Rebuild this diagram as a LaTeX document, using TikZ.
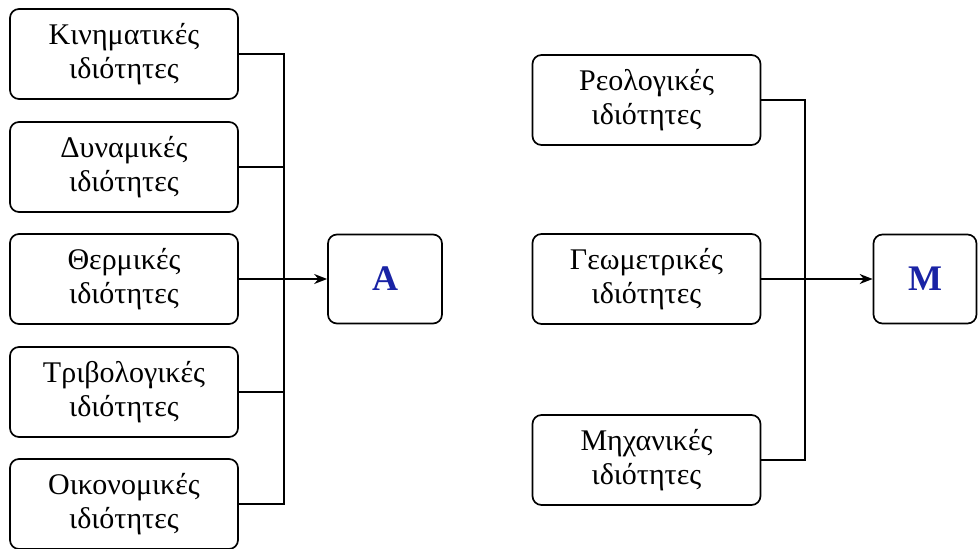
\documentclass[tikz,border=0pt]{standalone}
\usepackage{fontspec}
\setmainfont{Liberation Serif}
\usetikzlibrary{arrows.meta}
\definecolor{letterblue}{RGB}{25,35,165}
\begin{document}
\begin{tikzpicture}[x=1pt,y=-1pt,
  propbox/.style={draw, rounded corners=9pt, line width=1.7pt, minimum width=228pt,
    minimum height=90pt, align=center, inner sep=0pt,
    font=\fontsize{30}{34}\selectfont},
  resbox/.style={draw, rounded corners=9pt, line width=1.7pt, minimum height=89pt,
    inner sep=0pt, font=\fontsize{36}{38}\selectfont\bfseries, text=letterblue},
  conn/.style={line width=1.7pt},
  arr/.style={line width=1.7pt, -{Stealth[length=13pt,width=10pt]}}]
\useasboundingbox (0,0) rectangle (978,549);
% left group
\node[propbox] (k1) at (124,54) {Κινηματικές\\ιδιότητες};
\node[propbox] (k2) at (124,167) {Δυναμικές\\ιδιότητες};
\node[propbox] (k3) at (124,279) {Θερμικές\\ιδιότητες};
\node[propbox] (k4) at (124,392) {Τριβολογικές\\ιδιότητες};
\node[propbox] (k5) at (124,504) {Οικονομικές\\ιδιότητες};
\node[resbox, minimum width=114pt] (A) at (385,279) {A};
\coordinate (vl) at (284,0);
\draw[conn] (k1.east) -- (k1.east -| vl) -- (k5.east -| vl) -- (k5.east);
\draw[conn] (k2.east) -- (k2.east -| vl);
\draw[conn] (k4.east) -- (k4.east -| vl);
\draw[arr] (k3.east) -- (A.west);
% right group
\node[propbox] (r1) at (646.5,100) {Ρεολογικές\\ιδιότητες};
\node[propbox] (r2) at (646.5,279) {Γεωμετρικές\\ιδιότητες};
\node[propbox] (r3) at (646.5,460) {Μηχανικές\\ιδιότητες};
\node[resbox, minimum width=103pt] (M) at (925,279) {M};
\coordinate (vr) at (805,0);
\draw[conn] (r1.east) -- (r1.east -| vr) -- (r3.east -| vr) -- (r3.east);
\draw[arr] (r2.east) -- (M.west);
\end{tikzpicture}
\end{document}
